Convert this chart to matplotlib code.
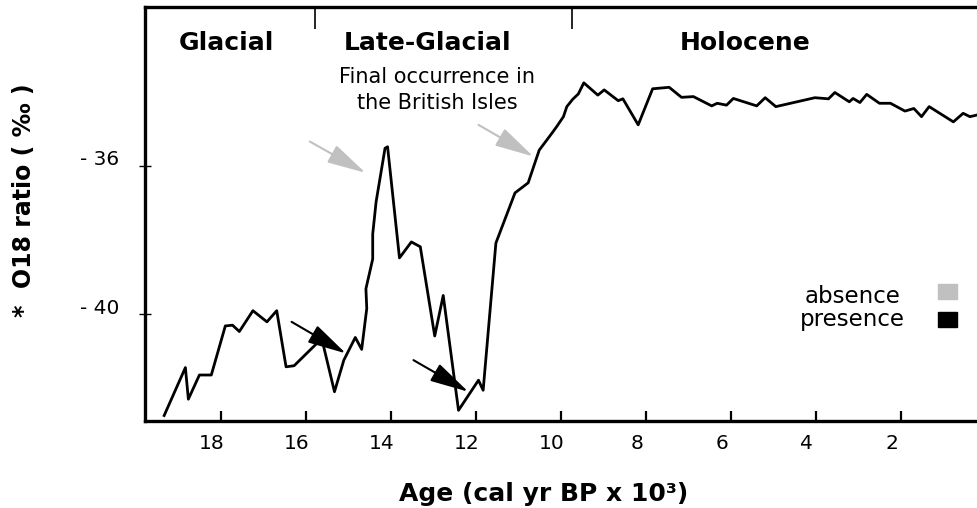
import matplotlib
matplotlib.use("Agg")
from matplotlib import pyplot as plt
from matplotlib.patches import Rectangle
from matplotlib.transforms import ScaledTranslation

# O18 record (age in cal kyr BP, ratio in per mille)
age = [19.34, 18.84, 18.77, 18.51, 18.23, 17.90, 17.73, 17.57, 17.25, 16.92,
       16.69, 16.47, 16.28, 15.63, 15.33, 15.11, 14.84, 14.69, 14.57, 14.59,
       14.43, 14.43, 14.35, 14.14, 14.08, 13.80, 13.52, 13.31, 12.97, 12.77,
       12.41, 11.94, 11.83, 11.53, 11.08, 10.77, 10.51, 10.26, 10.10, 9.94,
       9.86, 9.72, 9.59, 9.46, 9.13, 8.98, 8.65, 8.54, 8.18, 7.84,
       7.45, 7.16, 6.88, 6.45, 6.32, 6.10, 5.94, 5.39, 5.19, 4.94,
       4.02, 3.70, 3.55, 3.21, 3.12, 2.96, 2.80, 2.50, 2.24, 1.90,
       1.69, 1.51, 1.33, 0.76, 0.53, 0.37, 0.18]
o18 = [-42.72, -41.43, -42.28, -41.63, -41.63, -40.31, -40.29, -40.46, -39.90, -40.20,
       -39.90, -41.41, -41.38, -40.65, -42.08, -41.23, -40.62, -40.94, -39.84, -39.31,
       -38.51, -37.84, -36.97, -35.53, -35.49, -38.48, -38.05, -38.18, -40.58, -39.49,
       -42.58, -41.77, -42.04, -38.08, -36.73, -36.46, -35.58, -35.20, -34.95, -34.68,
       -34.41, -34.21, -34.07, -33.77, -34.10, -33.96, -34.25, -34.20, -34.90, -33.93,
       -33.89, -34.16, -34.14, -34.39, -34.32, -34.37, -34.19, -34.39, -34.17, -34.41,
       -34.17, -34.20, -34.03, -34.28, -34.19, -34.30, -34.08, -34.32, -34.32, -34.53,
       -34.46, -34.68, -34.41, -34.82, -34.59, -34.68, -34.63]

age_ticks = [18, 16, 14, 12, 10, 8, 6, 4, 2]
o18_ticks = [-40, -36]

periods = ["Glacial", "Late-Glacial", "Holocene"]
period_centres = [17.88, 13.15, 5.67]
period_bounds = [15.79, 9.74]

# arrows: (age, o18) of tail and head
absence_from = [(15.91, -35.35), (11.94, -34.90)]
absence_to = [(14.60, -36.19), (10.65, -35.75)]
presence_from = [(16.34, -40.20), (13.47, -41.23)]
presence_to = [(15.06, -41.05), (12.18, -42.08)]

legend_labels = ["absence", "presence"]
legend_colors = ["#c0c0c0", "black"]


def draw_arrows(ax, starts, ends, color):
    for (x0, y0), (x1, y1) in zip(starts, ends):
        ax.annotate("", xy=(x1, y1), xytext=(x0, y0),
                    arrowprops=dict(arrowstyle="-|>,head_length=2.4,head_width=0.6",
                                    mutation_scale=10, color=color, lw=1.5,
                                    shrinkA=0, shrinkB=0))


def plot_data(filename):
    fig = plt.figure(figsize=(9.78, 5.08), dpi=100)
    ax = fig.add_axes([0.1483, 0.1718, 0.8517, 0.8144])

    # the record itself
    ax.plot(age, o18, "k-", lw=2)
    ax.set_xlim(19.79, 0.18)
    ax.set_ylim(-42.86, -31.73)

    # frame
    ax.spines["right"].set_visible(False)
    for side in ["left", "bottom", "top"]:
        ax.spines[side].set_linewidth(2.4)

    ax.set_xticks(age_ticks)
    ax.set_xticklabels([str(t) for t in age_ticks])
    ax.set_yticks(o18_ticks)
    ax.set_yticklabels(["- %d" % abs(t) for t in o18_ticks])
    ax.tick_params(axis="x", direction="in", length=7, width=1.6,
                   labelsize=14.5, pad=9.5)
    ax.tick_params(axis="y", direction="inout", length=9, width=1,
                   labelsize=14.5, pad=14)
    for label in ax.get_xticklabels():
        label.set_transform(label.get_transform()
                            + ScaledTranslation(-0.09, 0, fig.dpi_scale_trans))
    for label in ax.get_yticklabels():
        label.set_transform(label.get_transform()
                            + ScaledTranslation(0, 0.08, fig.dpi_scale_trans))

    # periods along the top
    ax.vlines(period_bounds, -32.32, -31.73, color="black", lw=1.2)
    for name, centre in zip(periods, period_centres):
        ax.text(centre, -32.70, name, ha="center", va="center",
                fontsize=18, fontweight="bold")
    ax.text(12.92, -33.97, "Final occurrence in\nthe British Isles",
            ha="center", va="center", fontsize=15, linespacing=1.35)

    draw_arrows(ax, absence_from, absence_to, legend_colors[0])
    draw_arrows(ax, presence_from, presence_to, legend_colors[1])

    # legend
    for i, (name, color) in enumerate(zip(legend_labels, legend_colors)):
        fig.text(0.872, 0.403 - i * 0.045, name, ha="center", va="baseline",
                 fontsize=16.5)
        fig.add_artist(Rectangle((0.959, 0.4114 - i * 0.0551), 0.0194, 0.0295,
                                 transform=fig.transFigure, color=color))

    fig.text(0.556, 0.028, "Age (cal yr BP x 10\u00b3)", ha="center", va="center",
             fontsize=18, fontweight="bold")
    fig.text(0.0245, 0.606, "*  O18 ratio ( \u2030 )", rotation=90,
             ha="center", va="center", fontsize=17, fontweight="bold")

    fig.savefig(filename, dpi=100)
    plt.close(fig)


def main():
    plot_data("out.png")


if __name__ == "__main__":
    main()
